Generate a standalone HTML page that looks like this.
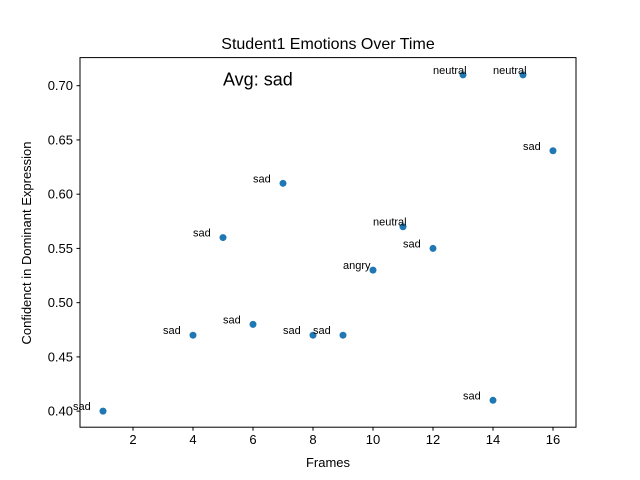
<!DOCTYPE html>
<html><head><meta charset="utf-8"><style>
html,body{margin:0;padding:0;background:#fff;}
svg{display:block;font-family:"Liberation Sans","DejaVu Sans",sans-serif;}
</style></head><body>
<svg id="chart" width="640" height="480">
<rect x="0" y="0" width="640" height="480" fill="#fff"/>
<text x="328" y="49" text-anchor="middle" font-size="16">Student1 Emotions Over Time</text>
<text x="328" y="467" text-anchor="middle" font-size="13">Frames</text>
<text transform="translate(31,243) rotate(-90)" text-anchor="middle" font-size="13">Confidenct in Dominant Expression</text>
<g id="ticks"></g>
<g id="marks"></g>
<rect x="80" y="57.6" width="496" height="369.6" fill="none" stroke="#000" stroke-width="1"/>
</svg>
<script>
const frames = [1,4,5,6,7,8,9,10,11,12,13,14,15,16];
const confidence = [0.40,0.47,0.56,0.48,0.61,0.47,0.47,0.53,0.57,0.55,0.71,0.41,0.71,0.64];
const emotions = ["sad","sad","sad","sad","sad","sad","sad","angry","neutral","sad","neutral","sad","neutral","sad"];
const xTicks = [2,4,6,8,10,12,14,16];
const yTicks = [0.40,0.45,0.50,0.55,0.60,0.65,0.70];
const avgLabel = "Avg: sad";

const X0=80,X1=576,Y0=427.2,Y1=57.6;
const xMin=0.233,xMax=16.767,yMin=0.3852,yMax=0.7259;
const sx=v=>X0+(v-xMin)/(xMax-xMin)*(X1-X0);
const sy=v=>Y0-(v-yMin)/(yMax-yMin)*(Y0-Y1);
const NS="http://www.w3.org/2000/svg";
const tg=document.getElementById('ticks'), mg=document.getElementById('marks');
function mk(tag,attrs,parent){const e=document.createElementNS(NS,tag);for(const k in attrs)e.setAttribute(k,attrs[k]);parent.appendChild(e);return e;}

xTicks.forEach(t=>{
  const l=mk('line',{x1:sx(t),x2:sx(t),y1:Y0,y2:Y0+3.5,stroke:'#000'},tg);
  
  
  const tx=mk('text',{x:sx(t),y:Y0+17,'text-anchor':'middle','font-size':'13'},tg);
  tx.textContent=t;
  
  
});
yTicks.forEach(t=>{
  const l=mk('line',{x1:X0-3.5,x2:X0,y1:sy(t),y2:sy(t),stroke:'#000'},tg);
  
  
  const tx=mk('text',{x:X0-7,y:sy(t)+4.5,'text-anchor':'end','font-size':'13'},tg);
  tx.textContent=t.toFixed(2);
  
  
});
frames.forEach((f,i)=>{
  const c=mk('circle',{cx:sx(f),cy:sy(confidence[i]),r:3.5,fill:'#1f77b4'},mg);
  
  
  const t=mk('text',{x:sx(f-1),y:sy(confidence[i])-1,'text-anchor':'start','font-size':'11'},mg);
  t.textContent=emotions[i];
  
  
});
const a=mk('text',{x:sx(5),y:sy(0.70),'font-size':'18'},mg);
a.textContent=avgLabel;


</script>
</body></html>
